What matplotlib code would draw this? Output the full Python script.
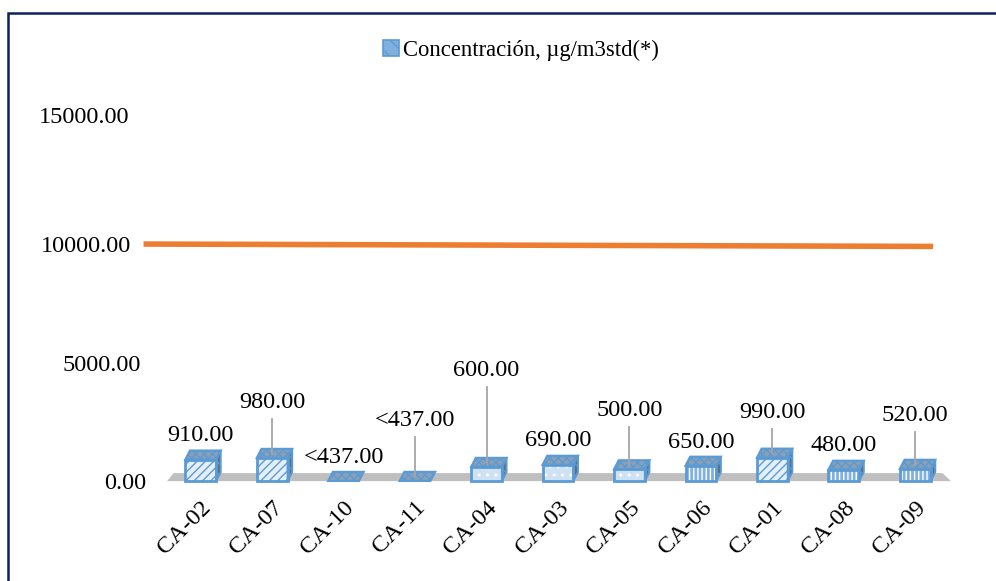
import matplotlib
matplotlib.use("Agg")
import matplotlib.pyplot as plt
from matplotlib.patches import Polygon, Patch, Rectangle
from matplotlib.transforms import ScaledTranslation
import numpy as np

plt.rcParams['font.family'] = ['Liberation Serif', 'DejaVu Serif']

# ---- data ----
categories = ["CA-02", "CA-07", "CA-10", "CA-11", "CA-04", "CA-03",
              "CA-05", "CA-06", "CA-01", "CA-08", "CA-09"]
values = [910, 980, 0, 0, 600, 690, 500, 650, 990, 480, 520]
value_labels = ["910.00", "980.00", "<437.00", "<437.00", "600.00", "690.00",
                "500.00", "650.00", "990.00", "480.00", "520.00"]
limit_value = 10000
y_ticks = [0, 5000, 10000, 15000]
legend_label = "Concentración, µg/m3std(*)"

# ---- layout / style (not data) ----
label_heights = [1940, 3330, 1010, 2570, 4680, 1730, 2990, 1640, 2910, 1520, 2780]
has_leader = [False, True, False, True, True, False, True, False, True, False, True]
hatches = ['////', '////', '////', '////', '..', '..', '..', '||||', '////', '||||', '||||']
face_colors = ['#e4eff9', '#e4eff9', '#e4eff9', '#e4eff9', '#cfe2f3', '#cfe2f3',
               '#cfe2f3', '#7fb0e0', '#e4eff9', '#7fb0e0', '#7fb0e0']
hatch_colors = ['#5b9bd5', '#5b9bd5', '#5b9bd5', '#5b9bd5', '#ffffff', '#ffffff',
                '#ffffff', '#ffffff', '#5b9bd5', '#ffffff', '#ffffff']
ytick_shift_px = [(17, 0), (12, 0), (2, 0), (0, 10)]   # perspective offsets of y labels

W, H = 996, 581
fig = plt.figure(figsize=(W / 100, H / 100), dpi=100)

# axes placement in pixels
left_px, right_px = 165, 951
top_px, bottom_px = 125.5, 493
ax = fig.add_axes([left_px / W, 1 - bottom_px / H, (right_px - left_px) / W,
                   (bottom_px - top_px) / H])
ax.set_xlim(-0.5, len(categories) - 0.5)
ax.set_ylim(-500, 15000)

x = np.arange(len(categories))
blue = '#5b9bd5'
bw = 0.43
dx, dy = 0.065, 380
FS = 17.5

# grey floor
ax.add_patch(Polygon([[-0.5 + 0.03, 0], [len(categories) - 0.5, 0],
                      [len(categories) - 0.5 - 0.12, 340], [-0.5 + 0.12, 340]],
                     closed=True, facecolor='#bfbfbf', edgecolor='none', zorder=1,
                     clip_on=False))

# bars (front faces + side + top)
for xi, v, h, fc, hc in zip(x, values, hatches, face_colors, hatch_colors):
    if v > 0:
        ax.bar(xi, v, width=bw, bottom=0, color=fc, edgecolor=hc,
               hatch=h, linewidth=0, zorder=3)
        ax.bar(xi, v, width=bw, bottom=0, facecolor='none', edgecolor=blue,
               linewidth=2.0, zorder=4)
        ax.add_patch(Polygon([[xi + bw / 2, 0], [xi + bw / 2 + dx, dy],
                              [xi + bw / 2 + dx, v + dy], [xi + bw / 2, v]],
                             closed=True, facecolor='#5f6f80', edgecolor=blue,
                             hatch='\\\\\\', linewidth=1.4, zorder=3))
        top = v
    else:
        top = 10
    ax.add_patch(Polygon([[xi - bw / 2, top], [xi + bw / 2, top],
                          [xi + bw / 2 + dx, top + dy], [xi - bw / 2 + dx, top + dy]],
                         closed=True, facecolor='#8d9fb3', edgecolor=blue,
                         hatch='xxxx', linewidth=1.6, zorder=4))

# limit line
ax.plot([-0.8, len(categories) - 0.75], [limit_value, limit_value - 100],
        color='#ed7d31', linewidth=4, solid_capstyle='butt', zorder=2, clip_on=False)

# data labels
for xi, v, lab, ly, lead in zip(x, values, value_labels, label_heights, has_leader):
    ax.text(xi, ly, lab, ha='center', va='center', fontsize=FS, color='#000000',
            zorder=6)
    if lead:
        ax.plot([xi, xi], [ly - 700, v + 180], color='#a6a6a6', linewidth=1.3, zorder=5)

ax.set_yticks(y_ticks)
ax.set_yticklabels([f"{t:.2f}" for t in y_ticks], fontsize=FS)
ax.set_xticks(x)
ax.set_xticklabels(categories, rotation=45, ha='right', rotation_mode='anchor',
                   fontsize=FS)
ax.tick_params(axis='both', length=0)
ax.tick_params(axis='y', pad=26)
ax.tick_params(axis='x', pad=3)
for s in ax.spines.values():
    s.set_visible(False)

for tick, (sx, sy) in zip(ax.yaxis.get_major_ticks(), ytick_shift_px):
    lbl = tick.label1
    lbl.set_transform(lbl.get_transform() +
                      ScaledTranslation(sx / 100, sy / 100, fig.dpi_scale_trans))

# legend
handle = Patch(facecolor='#7fb0e0', edgecolor=blue, hatch='\\\\', linewidth=1.2)
fig.legend([handle], [legend_label], loc='center', bbox_to_anchor=(0.523, 1 - 50 / H),
           frameon=False, fontsize=16.3, handlelength=0.7, handleheight=0.7,
           handletextpad=0.2)

# outer border
fig.add_artist(Rectangle((8 / W, -0.1), 1.2, 1 - 13 / H + 0.1, transform=fig.transFigure,
                         facecolor='none', edgecolor='#0b2160', linewidth=1.8))

fig.savefig("out.png", dpi=100)
